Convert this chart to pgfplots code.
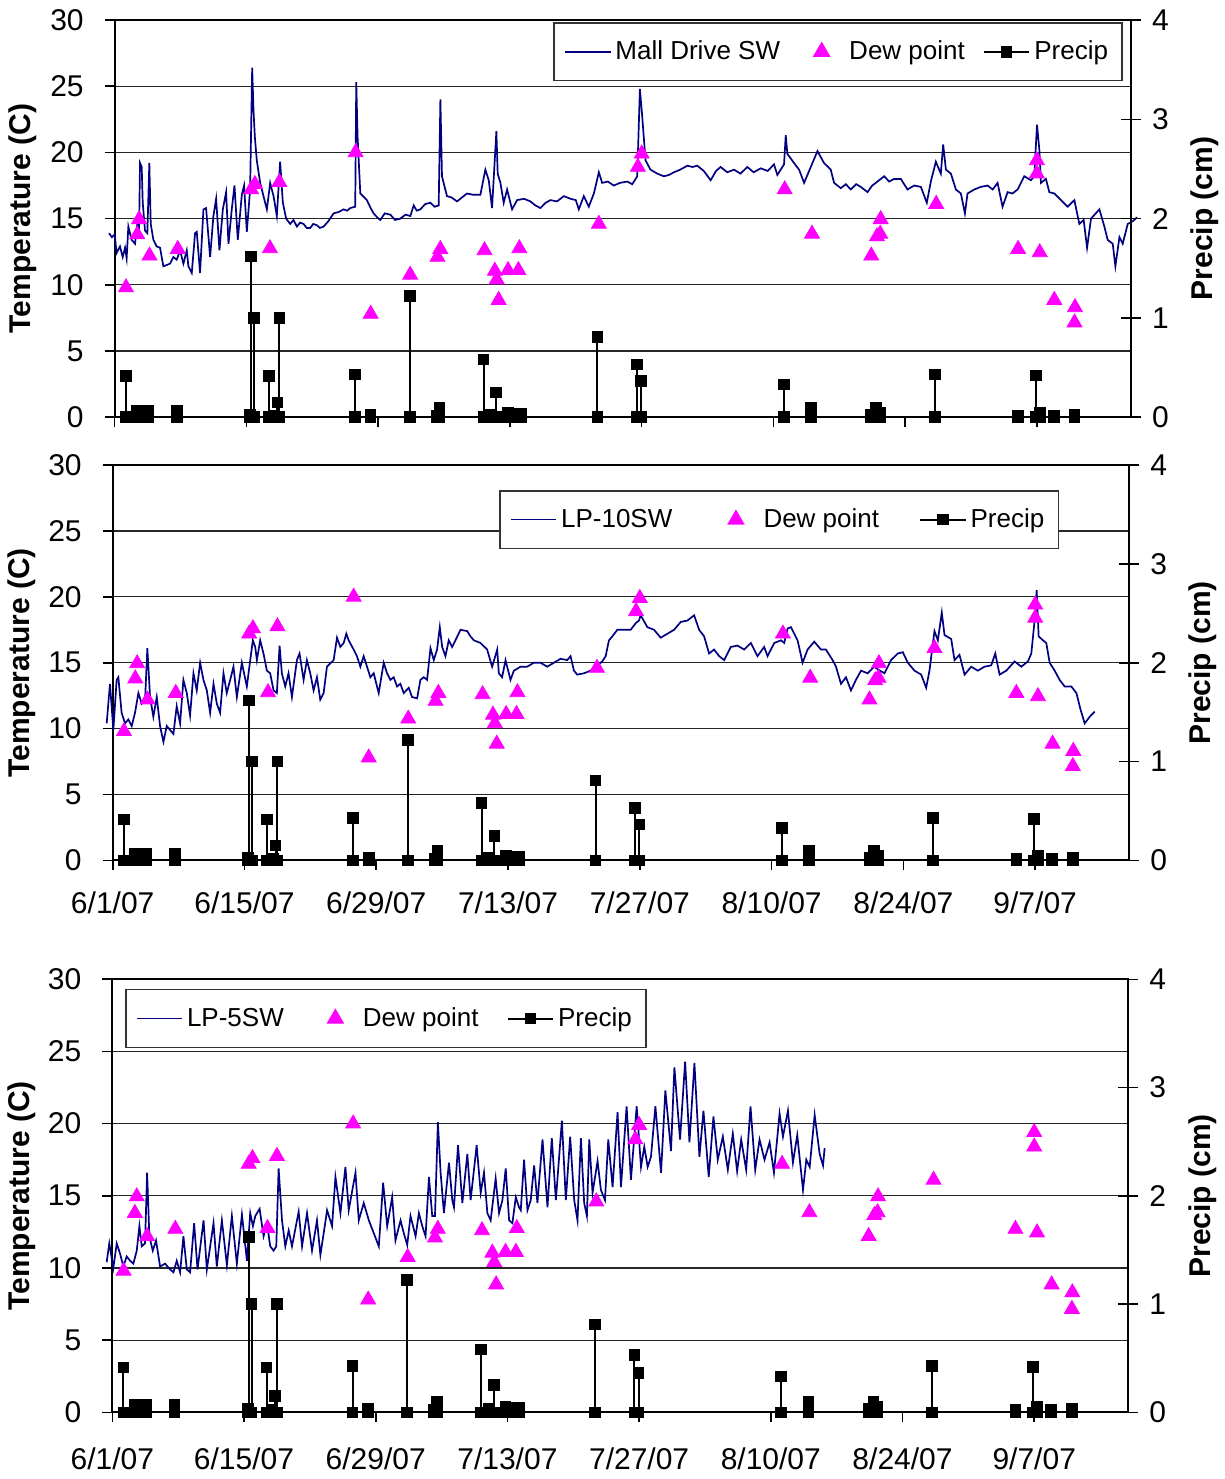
\documentclass[border=0pt]{standalone}
\usepackage{fontspec}
\setmainfont{Liberation Sans}
\usepackage{pgfplots}
\usepackage{pgfplotstable}
\pgfplotsset{compat=1.18}
\definecolor{tline}{RGB}{0,0,128}
\definecolor{dew}{RGB}{255,0,255}

% ---------- Mall Drive SW ----------
\pgfplotstableread{
d T
-0.6 13.9
-0.3 13.6
0.0 13.8
0.2 12.4
0.56 12.9
0.85 12.1
1.1 12.8
1.27 12.0
1.45 14.4
1.8 13.4
2.16 13.1
2.4 14.6
2.58 13.6
2.69 19.2
2.87 18.9
2.98 16.2
3.22 14.1
3.47 13.9
3.68 19.2
3.83 14.6
4.11 13.4
4.46 12.9
4.82 12.8
5.17 11.4
5.53 11.5
5.88 11.6
6.24 12.1
6.59 11.9
6.95 12.6
7.3 11.6
7.66 12.6
7.83 11.4
8.19 10.9
8.54 13.9
8.72 14.0
9.07 10.9
9.43 15.7
9.71 15.8
10.14 12.1
10.49 15.2
10.78 16.5
11.13 12.6
11.49 15.7
11.84 17.0
12.09 13.1
12.44 15.7
12.73 17.5
13.08 13.4
13.51 16.8
13.75 17.5
14.04 14.0
14.39 17.2
14.61 26.4
14.75 23.2
14.89 21.2
15.1 19.4
15.46 17.7
15.81 16.7
16.17 15.7
16.52 17.7
16.88 16.7
17.23 15.2
17.58 19.3
17.87 16.2
18.22 15.0
18.65 14.6
19.0 14.9
19.36 14.4
19.7 14.7
20.07 14.6
20.4 14.3
20.78 14.3
21.1 14.6
21.49 14.5
21.8 14.3
22.2 14.4
22.7 14.8
23.26 15.4
23.8 15.5
24.32 15.7
24.7 15.6
25.03 15.8
25.56 15.9
25.67 25.3
25.81 21.2
26.1 16.9
26.8 16.4
27.2 15.8
27.51 15.4
27.9 15.1
28.22 14.9
28.7 15.4
29.29 15.3
29.8 14.9
30.35 15.0
30.9 15.3
31.42 15.2
31.77 16.0
32.1 15.6
32.48 15.7
33.0 16.1
33.54 16.2
34.0 15.9
34.43 16.0
34.61 24.0
34.78 18.2
35.31 16.7
35.8 16.6
36.38 16.3
36.9 16.6
37.44 16.9
38.1 16.8
38.86 16.8
39.39 18.7
39.75 17.9
40.1 15.8
40.56 21.6
40.7 18.4
40.99 17.7
41.34 16.2
41.7 17.2
42.23 15.7
42.76 16.4
43.5 16.5
44.18 16.3
44.7 16.0
45.24 15.8
45.8 16.2
46.3 16.4
47.0 16.3
47.73 16.7
48.43 16.5
49.0 16.4
49.32 15.7
49.85 16.7
50.38 15.9
50.92 16.9
51.45 18.5
51.8 17.7
52.4 17.8
53.04 17.5
53.7 17.7
54.46 17.8
55.0 17.6
55.53 18.2
55.81 24.8
56.06 22.7
56.41 19.4
56.94 18.7
57.65 18.4
58.36 18.2
58.9 18.3
59.43 18.5
60.1 18.7
60.85 19.0
61.4 18.9
61.91 19.0
62.6 18.6
63.33 17.9
63.9 18.6
64.39 18.9
65.1 18.5
65.81 18.7
66.5 18.4
67.23 18.9
67.9 18.5
68.65 18.8
69.4 18.6
70.06 19.1
70.42 18.3
71.13 19.1
71.31 21.3
71.48 19.9
72.19 19.2
72.73 18.7
73.26 17.7
73.97 18.9
74.68 20.1
75.38 19.2
76.09 18.7
76.45 17.7
77.16 17.3
77.7 17.6
78.22 17.2
78.8 17.6
79.28 17.4
80.0 17.0
80.5 17.5
81.06 17.8
81.77 18.2
82.3 17.8
82.83 18.0
83.54 18.0
84.25 17.2
84.96 17.5
85.67 17.4
86.3 16.2
86.73 17.8
87.26 19.3
87.79 18.4
88.04 20.6
88.33 18.7
88.86 18.4
89.39 17.2
89.92 16.9
90.35 15.4
90.63 16.9
91.34 17.2
92.05 17.4
92.76 17.5
93.3 17.2
93.82 17.7
94.35 15.9
94.89 17.0
95.4 16.9
95.95 17.2
96.66 18.2
97.37 17.9
97.72 18.2
98.01 22.1
98.26 20.2
98.43 17.7
98.96 18.0
99.32 17.0
99.85 16.9
100.56 16.4
101.27 15.9
101.98 16.4
102.51 14.6
102.97 14.9
103.33 12.8
103.75 15.0
104.64 15.7
105.17 14.4
105.52 13.4
106.06 13.1
106.34 11.4
106.77 13.6
107.12 13.1
107.65 14.6
108.18 14.8
108.64 15.1
}\mall

% ---------- LP-10SW ----------
\pgfplotstableread{
d T
-0.64 10.4
-0.29 13.4
0.07 9.9
0.42 13.7
0.6 13.9
0.95 11.2
1.31 10.4
1.66 10.7
2.02 10.2
2.37 11.2
2.73 12.7
3.08 11.9
3.44 12.2
3.68 16.1
3.97 12.4
4.32 10.9
4.68 12.4
5.03 10.2
5.39 9.0
5.74 10.2
6.1 9.9
6.45 9.6
6.8 11.7
7.16 10.4
7.51 13.7
7.87 12.7
8.22 11.0
8.58 14.2
8.93 12.9
9.29 15.0
9.64 13.7
10.0 12.9
10.35 11.2
10.71 13.4
11.06 11.9
11.41 11.2
11.77 14.2
12.12 12.7
12.48 13.7
12.83 14.7
13.19 12.4
13.72 15.0
14.25 13.2
14.61 15.2
14.89 16.7
15.14 16.2
15.32 15.2
15.67 16.7
16.02 15.7
16.38 14.4
16.73 14.2
17.09 12.9
17.44 12.7
17.73 16.3
17.97 14.2
18.33 13.2
18.68 14.2
19.04 12.4
19.57 15.2
19.85 15.7
20.28 13.7
20.63 15.2
20.99 14.2
21.34 12.9
21.7 13.9
22.05 12.2
22.41 12.7
22.76 14.7
23.47 15.2
23.83 16.9
24.18 16.2
24.54 16.5
24.82 17.2
25.07 16.7
25.6 16.0
25.95 15.5
26.31 14.7
26.66 15.5
27.02 14.7
27.37 13.9
27.73 14.2
28.26 12.7
28.79 15.0
29.15 14.2
29.5 13.7
29.85 13.9
30.21 13.2
30.56 13.4
30.92 12.7
31.45 13.1
31.8 12.4
32.34 12.3
32.69 13.7
33.05 13.9
33.4 13.7
33.76 16.1
34.11 15.2
34.46 16.0
34.75 17.7
35.0 16.2
35.35 15.5
35.7 16.7
36.06 16.2
36.41 16.7
36.95 17.5
37.66 17.4
38.01 17.0
38.37 16.7
39.07 16.5
39.78 16.0
40.31 14.7
40.85 16.0
41.02 14.2
41.37 13.9
41.73 15.2
42.26 13.7
42.62 14.4
43.33 14.7
44.03 14.7
44.74 15.0
45.45 15.0
46.16 14.7
46.87 15.0
47.58 15.3
48.29 15.2
48.64 15.5
49.0 14.4
49.35 14.1
50.06 14.2
50.77 14.4
51.3 14.7
52.01 15.1
52.37 15.5
52.72 16.7
53.08 17.0
53.61 17.5
54.32 17.5
55.03 17.5
55.56 18.0
55.91 18.2
56.09 18.6
56.8 17.7
57.51 17.5
58.22 16.9
58.93 17.2
59.64 17.5
60.35 18.1
61.06 18.2
61.77 18.6
62.3 17.5
62.83 17.0
63.36 15.7
63.89 16.0
64.43 15.5
64.96 15.2
65.67 16.2
66.38 16.3
67.08 16.0
67.79 16.5
68.5 15.5
69.21 16.2
69.57 15.5
70.28 16.5
70.99 16.7
71.34 16.5
71.7 17.6
72.05 17.7
72.76 16.7
73.29 15.0
73.82 16.0
74.53 16.6
75.24 16.0
75.77 16.0
76.48 15.2
76.84 14.7
77.37 13.4
77.9 13.9
78.43 12.9
78.96 13.7
79.5 14.4
80.2 14.2
80.91 14.7
81.28 14.5
81.99 14.2
82.69 15.2
83.4 15.7
83.94 15.8
84.47 15.0
85.18 14.4
85.89 14.1
86.42 13.1
86.77 14.4
87.3 17.4
87.66 16.7
88.08 18.8
88.37 17.1
89.08 16.8
89.43 15.2
89.96 15.6
90.5 14.1
91.21 14.7
91.91 14.4
92.62 14.7
93.33 14.8
93.76 15.7
94.22 14.1
94.93 14.4
95.82 15.1
96.52 14.7
97.23 15.1
97.59 15.7
97.94 18.2
98.16 20.5
98.37 17.0
98.83 16.7
99.18 16.5
99.54 15.0
100.07 14.4
100.6 13.7
101.13 13.2
101.84 13.2
102.38 12.7
102.84 11.4
103.26 10.4
103.79 10.9
104.33 11.3
}\lpten

% ---------- LP-5SW ----------
\pgfplotstableread{
d T
-0.6 10.4
-0.32 11.7
0.11 10.0
0.47 11.7
0.82 11.0
1.18 10.1
1.53 10.8
1.89 10.5
2.24 10.3
2.6 11.2
2.88 12.9
3.13 11.5
3.48 11.7
3.7 16.6
3.94 12.2
4.3 11.2
4.65 11.9
5.08 10.1
5.61 10.3
6.14 9.9
6.5 9.7
6.85 10.5
7.21 9.7
7.56 12.2
7.92 9.9
8.27 9.7
8.7 13.1
9.06 9.9
9.7 13.3
10.05 9.9
10.76 13.1
11.11 10.1
11.65 13.3
12.18 10.2
12.71 13.6
13.24 10.3
13.78 13.7
14.31 10.5
14.66 13.8
14.95 12.9
15.2 13.6
15.66 14.1
16.08 12.2
16.44 13.1
16.79 11.5
17.15 11.2
17.43 11.5
17.68 16.9
18.04 13.3
18.39 11.5
18.75 12.6
19.1 11.5
19.81 13.9
20.17 11.5
20.7 13.8
21.23 11.2
21.76 13.3
22.12 10.9
22.47 12.4
22.83 14.0
23.36 12.9
23.72 16.3
24.25 13.8
24.78 17.0
25.13 14.0
25.85 16.6
26.2 13.3
26.73 14.5
27.27 13.3
27.8 12.4
28.33 11.5
28.79 15.9
29.22 12.9
29.75 14.9
30.1 11.9
30.64 13.3
30.99 12.4
31.35 11.6
31.7 13.6
32.24 12.2
32.59 13.8
32.95 12.9
33.3 12.2
33.66 16.3
34.01 13.6
34.3 13.6
34.61 20.1
34.9 16.6
35.25 13.8
35.79 17.3
36.14 14.7
36.32 14.2
36.75 18.5
37.21 14.5
37.74 17.9
38.09 14.7
38.73 18.5
39.16 15.2
39.51 16.6
39.87 13.8
40.22 13.3
40.75 16.2
41.11 13.8
41.47 14.7
41.82 16.9
42.18 13.3
42.53 13.1
42.89 14.9
43.24 14.2
43.42 14.0
43.77 17.5
44.13 14.0
44.48 14.7
44.84 17.1
45.19 14.5
45.73 18.9
46.26 14.2
46.72 19.0
47.15 14.7
47.79 20.2
48.21 14.7
48.67 19.1
49.1 14.7
49.45 13.3
49.81 19.0
50.16 14.5
50.45 13.6
50.7 18.9
51.05 15.2
51.58 17.4
51.94 15.4
52.37 14.7
52.72 18.9
53.18 15.6
53.71 20.8
54.07 15.6
54.67 21.2
55.13 16.1
55.74 21.2
56.2 17.0
56.55 18.4
56.91 17.0
57.26 17.7
57.73 21.2
58.33 16.6
58.79 22.3
59.39 18.1
59.75 23.9
60.35 18.9
60.89 24.3
61.35 18.7
61.88 24.2
62.41 17.7
62.84 20.9
63.4 16.3
63.9 20.5
64.36 17.5
64.9 19.1
65.43 16.8
65.96 19.3
66.42 16.7
66.85 18.9
67.38 16.8
67.84 21.2
68.34 16.8
68.8 18.9
69.33 17.5
69.87 18.7
70.33 16.6
70.93 20.7
71.29 19.1
71.82 20.9
72.35 17.3
72.81 19.2
73.42 15.4
73.77 17.5
74.13 17.0
74.66 20.6
75.19 17.9
75.55 17.1
75.72 18.3
}\lpfive

% ---------- Dew point ----------
\pgfplotstableread{
d T
1.2 9.8
2.4 13.8
2.6 14.95
3.7 12.2
6.7 12.7
14.5 17.2
14.9 17.6
16.5 12.75
17.5 17.75
25.6 20.0
27.2 7.8
31.4 10.75
34.3 12.1
34.6 12.7
39.3 12.6
40.4 11.05
40.6 10.4
40.8 8.85
41.8 11.1
42.9 11.1
43.0 12.75
51.45 14.6
55.6 18.9
56.0 19.9
71.2 17.2
74.1 13.85
80.4 12.2
81.0 13.65
81.35 13.85
81.4 14.95
87.3 16.1
96.0 12.7
98.0 18.4
98.0 19.4
98.3 12.45
99.85 8.85
102.0 7.15
102.05 8.3
}\dew

% ---------- Precip (each event: 0, value, 0) ----------
\pgfplotstableread{
d P
1.17 0
1.17 0.415
1.17 0
2.4 0
2.4 0.07
2.4 0
2.8 0
2.8 0.07
2.8 0
3.6 0
3.6 0.07
3.6 0
6.6 0
6.6 0.07
6.6 0
14.4 0
14.4 0.03
14.4 0
14.5 0
14.5 1.62
14.5 0
14.8 0
14.8 1.0
14.8 0
16.4 0
16.4 0.415
16.4 0
17.0 0
17.0 0.02
17.0 0
17.3 0
17.3 0.15
17.3 0
17.5 0
17.5 1.0
17.5 0
25.55 0
25.55 0.43
25.55 0
27.2 0
27.2 0.03
27.2 0
31.35 0
31.35 1.22
31.35 0
34.2 0
34.2 0.02
34.2 0
34.5 0
34.5 0.1
34.5 0
39.2 0
39.2 0.58
39.2 0
40.0 0
40.0 0.03
40.0 0
40.55 0
40.55 0.25
40.55 0
41.8 0
41.8 0.05
41.8 0
42.9 0
42.9 0.04
42.9 0
43.2 0
43.2 0.04
43.2 0
51.3 0
51.3 0.81
51.3 0
55.5 0
55.5 0.53
55.5 0
55.95 0
55.95 0.365
55.95 0
71.1 0
71.1 0.33
71.1 0
74.0 0
74.0 0.1
74.0 0
80.4 0
80.4 0.03
80.4 0
80.9 0
80.9 0.1
80.9 0
81.3 0
81.3 0.05
81.3 0
87.15 0
87.15 0.43
87.15 0
96.0 0
96.0 0.02
96.0 0
97.9 0
97.9 0.42
97.9 0
98.3 0
98.3 0.05
98.3 0
99.8 0
99.8 0.02
99.8 0
102.0 0
102.0 0.03
102.0 0
}\precip

\pgfplotsset{
  every axis/.append style={
    legend image code/.code={\path (0cm,0cm) (0.8cm,0cm);\draw[mark repeat=2,mark phase=2,#1] plot coordinates {(0cm,0cm) (0.4cm,0cm) (0.8cm,0cm)};},
  },
  tempaxis/.style={
    scale only axis, anchor=south west,
    xmin=0, xmax=108, ymin=0, ymax=30,
    ytick={0,5,10,15,20,25,30},
    xtick={0,14,28,42,56,70,84,98},
    ymajorgrids,
    grid style={black!85, line width=0.6pt},
    axis line style={black, line width=1pt},
    xtick pos=bottom, ytick pos=left,
    tick align=outside,
    major tick length=5pt,
    tick style={black, line width=0.8pt},
    ticklabel style={font=\fontsize{15}{18}\selectfont},
    /pgf/number format/assume math mode=true,
    yticklabel style={xshift=-7pt},
    xticklabel style={yshift=-7pt},
    clip=false,
    ylabel={Temperature (C)},
    label style={font=\fontsize{15}{18}\selectfont\bfseries},
  },
  precipaxis/.style={
    scale only axis, anchor=south west,
    xmin=0, xmax=108, ymin=0, ymax=4,
    ytick={0,1,2,3,4},
    axis x line=none,
    axis y line*=right,
    axis line style={black, line width=1pt, -},
    tick align=center, major tick length=10pt,
    tick style={black, line width=0.8pt},
    ticklabel style={font=\fontsize{15}{18}\selectfont},
    /pgf/number format/assume math mode=true,
    yticklabel style={xshift=2pt},
    ylabel={Precip (cm)},
    label style={font=\fontsize{15}{18}\selectfont\bfseries},
    legend columns=3,
    legend cell align=left,
    legend style={draw=black!80, line width=0.8pt, fill=white,
      font=\fontsize{13}{15}\selectfont, inner xsep=5pt, inner ysep=7pt},
  },
  precipplot/.style={black, line width=1pt, mark=square*, mark size=2.4pt, mark options={solid}},
  tempplot/.style={tline, line width=0.85pt, mark=none},
  dewplot/.style={only marks, mark=triangle*, mark size=4.3pt, color=dew, mark options={fill=dew, draw=dew}},
}

\begin{document}
\begin{tikzpicture}
\path[use as bounding box] (0,0) rectangle (612.5pt,739.5pt);

% ===== Top panel =====
\begin{axis}[tempaxis, at={(57.35pt,530.85pt)}, width=508.15pt, height=198.65pt,
  xticklabels={,,,,,,,,}, ylabel style={at={(axis description cs:-0.0907,0.5)}, anchor=center}]
\addplot[tempplot] table[x=d,y=T]{\mall};
\addplot[dewplot] table[x=d,y=T]{\dew};
\end{axis}
\begin{axis}[precipaxis, at={(57.35pt,530.85pt)}, width=508.15pt, height=198.65pt,
  ylabel style={at={(axis description cs:1.0728,0.5)}, anchor=center},
  legend style={at={(axis description cs:0.992,0.995)}, anchor=north east,
    /tikz/every even column/.append style={column sep=7pt}}]
\addlegendimage{tempplot}
\addlegendentry{Mall Drive SW}
\addlegendimage{dewplot}
\addlegendentry{Dew point}
\addplot[precipplot] table[x=d,y=P]{\precip};
\addlegendentry{Precip}
\end{axis}

% ===== Middle panel =====
\begin{axis}[tempaxis, at={(56.35pt,309.25pt)}, width=508.3pt, height=197.75pt,
  xticklabels={6/1/07,6/15/07,6/29/07,7/13/07,7/27/07,8/10/07,8/24/07,9/7/07},
  ylabel style={at={(axis description cs:-0.0892,0.5)}, anchor=center}]
\addplot[tempplot] table[x=d,y=T]{\lpten};
\addplot[dewplot] table[x=d,y=T]{\dew};
\end{axis}
\begin{axis}[precipaxis, at={(56.35pt,309.25pt)}, width=508.3pt, height=197.75pt,
  ylabel style={at={(axis description cs:1.0725,0.5)}, anchor=center},
  legend style={at={(axis description cs:0.931,0.937)}, anchor=north east,
    /tikz/every even column/.append style={column sep=18pt}}]
\addlegendimage{tempplot}
\addlegendentry{LP-10SW}
\addlegendimage{dewplot}
\addlegendentry{Dew point}
\addplot[precipplot] table[x=d,y=P]{\precip};
\addlegendentry{Precip}
\end{axis}

% ===== Bottom panel =====
\begin{axis}[tempaxis, at={(56.15pt,33.35pt)}, width=508pt, height=216.5pt,
  xticklabels={6/1/07,6/15/07,6/29/07,7/13/07,7/27/07,8/10/07,8/24/07,9/7/07},
  xticklabel style={yshift=-2pt},
  ylabel style={at={(axis description cs:-0.0889,0.5)}, anchor=center}]
\addplot[tempplot] table[x=d,y=T]{\lpfive};
\addplot[dewplot] table[x=d,y=T]{\dew};
\end{axis}
\begin{axis}[precipaxis, at={(56.15pt,33.35pt)}, width=508pt, height=216.5pt,
  ylabel style={at={(axis description cs:1.0735,0.5)}, anchor=center},
  legend style={at={(axis description cs:0.0125,0.978)}, anchor=north west,
    /tikz/every even column/.append style={column sep=12pt}}]
\addlegendimage{tempplot}
\addlegendentry{LP-5SW}
\addlegendimage{dewplot}
\addlegendentry{Dew point}
\addplot[precipplot] table[x=d,y=P]{\precip};
\addlegendentry{Precip}
\end{axis}
\end{tikzpicture}
\end{document}
